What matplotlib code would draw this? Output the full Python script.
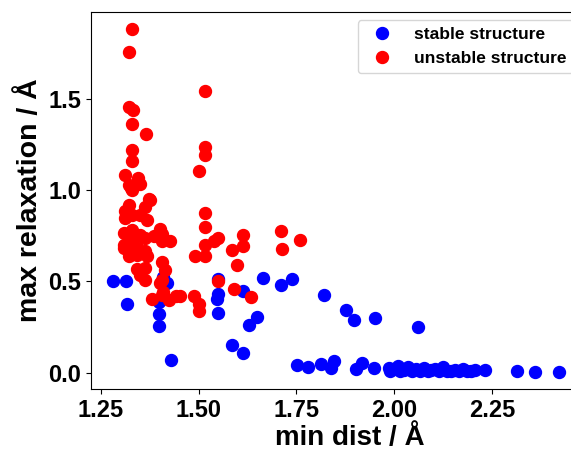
import matplotlib
matplotlib.use("Agg")
import matplotlib.pyplot as plt

plt.rcParams["font.family"] = ["Liberation Sans", "DejaVu Sans"]
plt.rcParams["font.weight"] = "bold"
plt.rcParams["axes.labelweight"] = "bold"

# structures that stayed put after relaxation
stable_dist = [
    1.281, 1.314, 1.318, 1.409, 1.419, 1.399, 1.399, 1.399, 1.428,
    1.550, 1.550, 1.546, 1.550, 1.585, 1.614, 1.613, 1.629, 1.648,
    1.664, 1.710, 1.738, 1.752, 1.779, 1.812, 1.838, 1.846, 1.820,
    1.876, 1.896, 1.950, 1.903, 1.918, 1.948, 1.986, 2.060,
    1.990, 2.000, 2.010, 2.015, 2.025, 2.035, 2.045, 2.055, 2.065,
    2.075, 2.085, 2.095, 2.105, 2.115, 2.125, 2.135, 2.145, 2.155,
    2.165, 2.175, 2.185, 2.195, 2.205, 2.233, 2.314, 2.360, 2.422,
]
stable_relax = [
    0.503, 0.503, 0.376, 0.524, 0.490, 0.390, 0.320, 0.257, 0.071,
    0.513, 0.430, 0.403, 0.330, 0.150, 0.450, 0.110, 0.264, 0.308,
    0.518, 0.480, 0.516, 0.044, 0.033, 0.049, 0.026, 0.067, 0.427,
    0.345, 0.288, 0.299, 0.022, 0.053, 0.024, 0.029, 0.253,
    0.012, 0.020, 0.035, 0.010, 0.015, 0.030, 0.008, 0.020, 0.012,
    0.025, 0.010, 0.015, 0.020, 0.010, 0.030, 0.012, 0.008, 0.018,
    0.012, 0.020, 0.010, 0.008, 0.015, 0.013, 0.011, 0.005, 0.004,
]

# structures that fell apart
unstable_dist = [
    1.329, 1.323, 1.515, 1.323, 1.332, 1.329, 1.366, 1.329, 1.329,
    1.515, 1.515, 1.500, 1.312, 1.346, 1.323, 1.349, 1.329, 1.374,
    1.515, 1.515, 1.515, 1.538, 1.550, 1.585, 1.614, 1.614, 1.710,
    1.714, 1.759, 1.491, 1.517, 1.598, 1.550, 1.589, 1.634, 1.489,
    1.500, 1.502, 1.453,
    1.326, 1.376, 1.363, 1.321, 1.312, 1.312, 1.330, 1.351, 1.368,
    1.308, 1.330, 1.351, 1.330, 1.308, 1.308, 1.326, 1.342, 1.363,
    1.385, 1.402, 1.406, 1.406, 1.427, 1.363, 1.368, 1.321, 1.342,
    1.406, 1.415, 1.342, 1.363, 1.351, 1.363, 1.406, 1.402, 1.410,
    1.406, 1.381, 1.423, 1.443,
]
unstable_relax = [
    1.883, 1.753, 1.542, 1.454, 1.440, 1.361, 1.306, 1.221, 1.157,
    1.235, 1.191, 1.104, 1.080, 1.066, 1.029, 1.034, 1.000, 0.950,
    0.874, 0.800, 0.700, 0.720, 0.737, 0.673, 0.755, 0.695, 0.777,
    0.677, 0.728, 0.637, 0.640, 0.590, 0.505, 0.458, 0.414, 0.418,
    0.376, 0.340, 0.418,
    1.010, 0.943, 0.910, 0.920, 0.883, 0.847, 0.865, 0.865, 0.834,
    0.765, 0.783, 0.755, 0.728, 0.700, 0.682, 0.673, 0.691, 0.737,
    0.746, 0.786, 0.759, 0.719, 0.719, 0.669, 0.637, 0.637, 0.646,
    0.609, 0.564, 0.568, 0.573, 0.536, 0.509, 0.509, 0.490, 0.445,
    0.427, 0.405, 0.400, 0.421,
]

fig = plt.figure(figsize=(5.71, 4.5), dpi=100)
ax = fig.add_axes([90.7 / 571, 60.7 / 450, 491 / 571, 377.8 / 450])

ax.plot(stable_dist, stable_relax, "o", color="blue", markersize=8.6,
        label="stable structure")
ax.plot(unstable_dist, unstable_relax, "o", color="red", markersize=8.6,
        label="unstable structure")

ax.set_xlim(1.224, 2.479)
ax.set_ylim(-0.09, 1.977)
ax.set_xticks([1.25, 1.50, 1.75, 2.00, 2.25])
ax.set_yticks([0.0, 0.5, 1.0, 1.5])
ax.tick_params(labelsize=17)
ax.set_xlabel("min dist / Å", fontsize=20)
ax.set_ylabel("max relaxation / Å", fontsize=20.5)
ax.xaxis.set_label_coords(0.528, -0.095)
ax.yaxis.set_label_coords(-0.098, 0.5)
ax.legend(loc="upper right", fontsize=12.5)

fig.savefig("out.png", dpi=100)
